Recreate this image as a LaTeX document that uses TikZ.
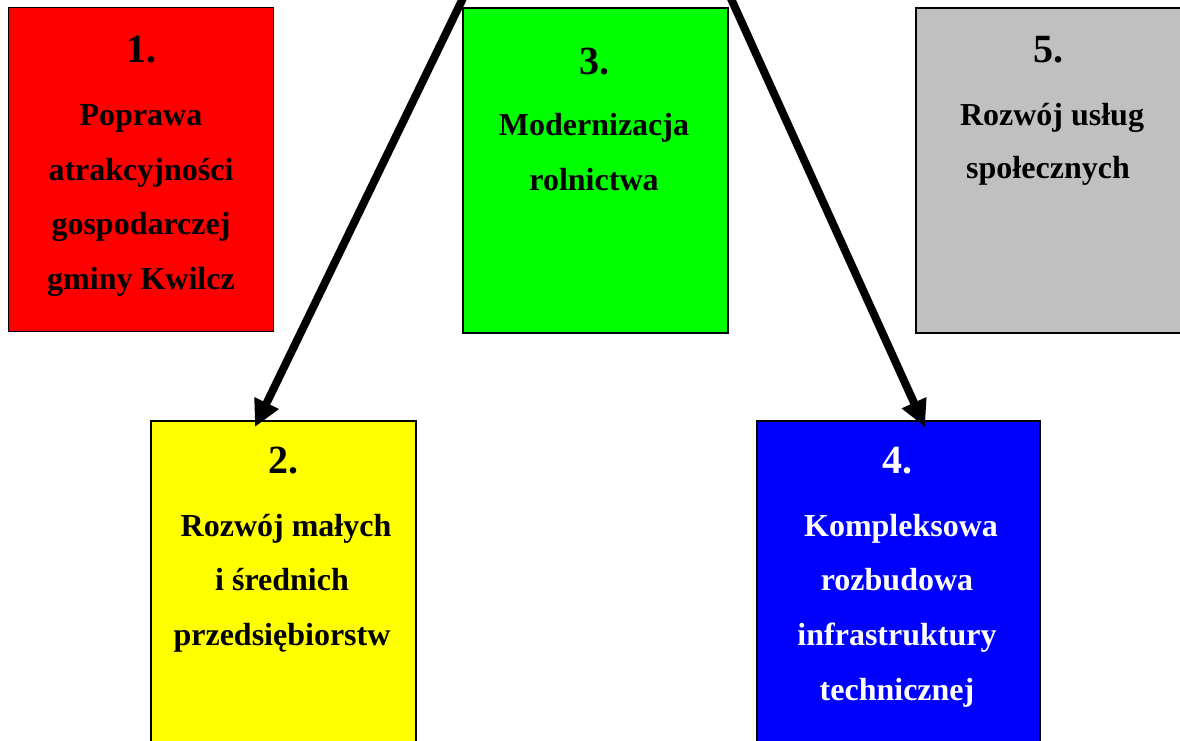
\documentclass[tikz,border=0pt]{standalone}
\usepackage{fontspec}
\setmainfont{Liberation Serif}
\usetikzlibrary{arrows.meta}
\begin{document}
\begin{tikzpicture}[x=0.75pt,y=-0.75pt,
  box/.style={draw=black, line width=1.5pt, anchor=north west, inner sep=0pt},
  num/.style={anchor=base, inner sep=0pt, font=\fontsize{30}{34}\selectfont\bfseries},
  txt/.style={anchor=base, inner sep=0pt, font=\fontsize{24}{28}\selectfont\bfseries},
  conn/.style={line width=6pt, -{Triangle[length=20pt,width=19pt]}}]
\useasboundingbox (0,0) rectangle (1180,740);
% boxes
\node[box, line width=0.9pt, fill={rgb,255:red,255;green,0;blue,0}, minimum width=198.75pt, minimum height=243pt] (b1) at (8,7) {};
\node[box, fill={rgb,255:red,0;green,255;blue,0}, minimum width=198.75pt, minimum height=243.75pt] (b3) at (462,7) {};
\node[box, fill={rgb,255:red,192;green,192;blue,192}, minimum width=206pt, minimum height=243.75pt] (b5) at (915,7) {};
\node[box, fill={rgb,255:red,255;green,255;blue,0}, minimum width=198.75pt, minimum height=248pt] (b2) at (150,420) {};
\node[box, fill={rgb,255:red,0;green,0;blue,255}, minimum width=212.25pt, minimum height=248pt] (b4) at (756,420) {};
% box 1
\node[num] (n1) at (141,62) {1.};
\node[txt] (t1a) at (141,125) {Poprawa};
\node[txt] (t1b) at (141,180) {atrakcyjności};
\node[txt] (t1c) at (141,234) {gospodarczej};
\node[txt] (t1d) at (141,289) {gminy Kwilcz};
% box 3
\node[num] (n3) at (594,74) {3.};
\node[txt] (t3a) at (594,135) {Modernizacja};
\node[txt] (t3b) at (594,190) {rolnictwa};
% box 5
\node[num] (n5) at (1048,62) {5.};
\node[txt] (t5a) at (1052,125) {Rozwój usług};
\node[txt] (t5b) at (1048,178) {społecznych};
% box 2
\node[num] (n2) at (283,473) {2.};
\node[txt] (t2a) at (286,536) {Rozwój małych};
\node[txt] (t2b) at (282,590) {i średnich};
\node[txt] (t2c) at (282,645) {przedsiębiorstw};
% box 4
\node[num, text=white] (n4) at (897,473) {4.};
\node[txt, text=white] (t4a) at (901,536) {Kompleksowa};
\node[txt, text=white] (t4b) at (897,590) {rozbudowa};
\node[txt, text=white] (t4c) at (897,645) {infrastruktury};
\node[txt, text=white] (t4d) at (897,700) {technicznej};
% arrows
\coordinate (s2) at (466,-8);
\coordinate (e2) at (255,427);
\coordinate (s4) at (728,-8);
\coordinate (e4) at (925,427);
\draw[conn] (s2) -- (e2);
\draw[conn] (s4) -- (e4);
\end{tikzpicture}
\end{document}
